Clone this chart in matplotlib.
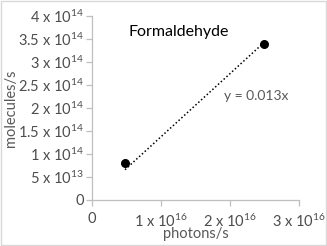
import numpy as np
import matplotlib.pyplot as plt

# data
photons = np.array([4.8e15, 2.49e16])
molecules = np.array([8.0e13, 3.39e14])
slope_label = 'y = 0.013x'
yticks = np.arange(0, 4.01e14, 5e13)
xticks = np.array([0, 1e16, 2e16, 3e16])

grey = '#595959'
plt.rcParams['font.family'] = ['Lato', 'DejaVu Sans']
plt.rcParams['mathtext.fontset'] = 'custom'
plt.rcParams['mathtext.rm'] = 'Lato'


def sci_label(v):
    if v == 0:
        return '0'
    exp = int(np.floor(np.log10(v)))
    mant = v / 10**exp
    m = ('%g' % mant)
    return m + r' x $\mathregular{10^{%d}}$' % exp


fig = plt.figure(figsize=(3.27, 2.46), dpi=100)
ax = fig.add_axes([0.281, 0.187, 0.633, 0.748])

# linear trendline through origin
k = np.sum(photons * molecules) / np.sum(photons ** 2)
xs = np.array([photons.min(), photons.max()])
ax.plot(xs, k * xs, color='black', linestyle=(0, (1, 1.5)), linewidth=1.1)
ax.scatter(photons, molecules, s=30, color='black', zorder=3)

ax.set_xlim(0, 3e16)
ax.set_ylim(0, 4e14)
ax.set_xticks(xticks)
ax.set_yticks(yticks)
ax.set_xticklabels([sci_label(v) for v in xticks], color='#4d4d4d', fontsize=10.5)
ax.set_yticklabels([sci_label(v) for v in yticks], color='#4d4d4d', fontsize=10.5)

for s in ['top', 'right']:
    ax.spines[s].set_visible(False)
for s in ['left', 'bottom']:
    ax.spines[s].set_color('#bfbfbf')
    ax.spines[s].set_linewidth(0.9)
ax.tick_params(axis='both', color='#bfbfbf', length=4, width=0.9, pad=2)
ax.tick_params(axis='x', pad=5)

ax.set_xlabel('photons/s', color=grey, fontsize=10.5, labelpad=-2)
ax.set_ylabel('molecules/s', color=grey, fontsize=10.5, labelpad=0)
ax.yaxis.set_label_coords(-0.355, 0.5)

ax.text(0.175, 0.915, 'Formaldehyde', transform=ax.transAxes, fontsize=11.5,
        color='black', va='center', ha='left')
ax.text(0.64, 0.565, slope_label, transform=ax.transAxes, fontsize=10,
        color=grey, va='center', ha='left')

fig.patches.append(plt.Rectangle((0.003, 0.004), 0.994, 0.992, transform=fig.transFigure,
                                 fill=False, edgecolor='#d9d9d9', linewidth=1))

fig.savefig('out.png', dpi=100)
